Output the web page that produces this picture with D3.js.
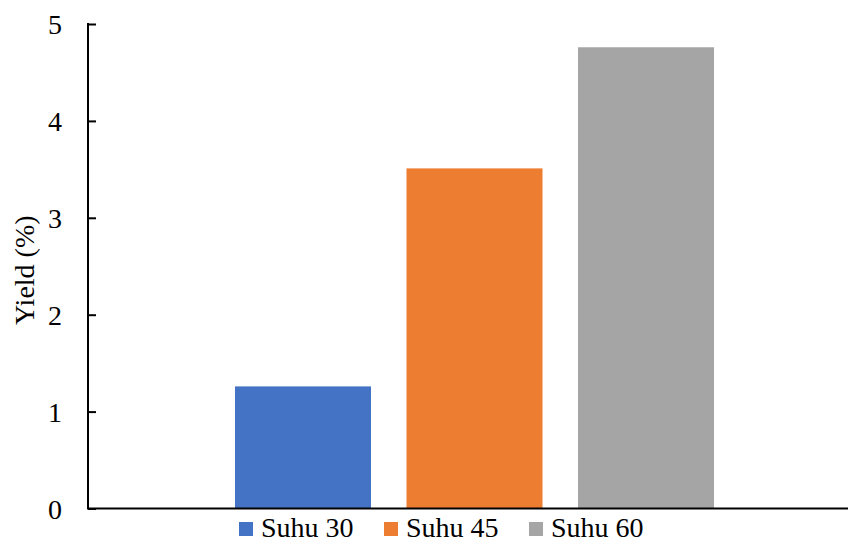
<!DOCTYPE html>
<html>
<head>
<meta charset="utf-8">
<script src="https://cdn.jsdelivr.net/npm/d3@7/dist/d3.min.js"></script>
<style>
  html, body { margin: 0; padding: 0; background: #fff; }
  svg { display: block; }
</style>
</head>
<body>
<svg id="chart" width="848" height="542"></svg>
<script>
// Yield by temperature
const categories = ["Yield"];
const series = ["Suhu 30", "Suhu 45", "Suhu 60"];
const values = [1.26, 3.51, 4.76];
const colors = ["#4472C4", "#ED7D31", "#A5A5A5"];
const yTicks = [0, 1, 2, 3, 4, 5];

const FONT = "'Liberation Serif', 'Times New Roman', Times, serif";
const FS = "28px";
const svg = d3.select("#chart");
const W = 848;
const plot = { left: 88, right: 861, top: 24, bottom: 508.5 };

const y = d3.scaleLinear().domain([0, 5]).range([plot.bottom, plot.top]);

const x0 = d3.scaleBand().domain(categories).range([plot.left, plot.right]).padding(0.2348);
const x1 = d3.scaleBand().domain(series).range([0, x0.bandwidth()]).paddingInner(0.207);

// bars
const g = svg.append("g");
categories.forEach(cat => {
  g.selectAll("rect.bar")
    .data(series.map((s, i) => ({ s, v: values[i], c: colors[i] })))
    .enter().append("rect")
    .attr("class", "bar")
    .attr("x", d => x0(cat) + x1(d.s))
    .attr("width", x1.bandwidth())
    .attr("y", d => y(d.v))
    .attr("height", d => y(0) - y(d.v))
    .attr("fill", d => d.c);
});

// y axis with ticks pointing into the plot
const yAxis = d3.axisLeft(y).tickValues(yTicks).tickSize(-8).tickPadding(26).tickFormat(d3.format("d"));
const ya = svg.append("g").attr("transform", `translate(${plot.left},0)`).call(yAxis);
ya.attr("font-family", null).attr("font-size", null);
ya.select(".domain").attr("stroke", "#000").attr("stroke-width", 2)
  .attr("d", `M0,${plot.top - 1}V${plot.bottom}`);
ya.selectAll(".tick line").attr("stroke", "#000").attr("stroke-width", 2);
ya.selectAll(".tick text")
  .style("font-family", FONT).style("font-size", FS).attr("fill", "#000")
  .attr("dy", "0.34em");

// x axis baseline
svg.append("line")
  .attr("x1", plot.left - 1).attr("x2", W)
  .attr("y1", y(0)).attr("y2", y(0))
  .attr("stroke", "#000").attr("stroke-width", 2);

// y axis title
svg.append("text")
  .attr("transform", `translate(34,${(plot.top + plot.bottom) / 2 + 4}) rotate(-90)`)
  .attr("text-anchor", "middle")
  .style("font-family", FONT).style("font-size", FS)
  .text("Yield (%)");

// legend
const legendX = [239, 384, 529];
const lg = svg.append("g");
series.forEach((s, i) => {
  lg.append("rect").attr("x", legendX[i]).attr("y", 522).attr("width", 14).attr("height", 14).attr("fill", colors[i]);
  lg.append("text").attr("x", legendX[i] + 22).attr("y", 537)
    .style("font-family", FONT).style("font-size", FS).text(s);
});
</script>
</body>
</html>
